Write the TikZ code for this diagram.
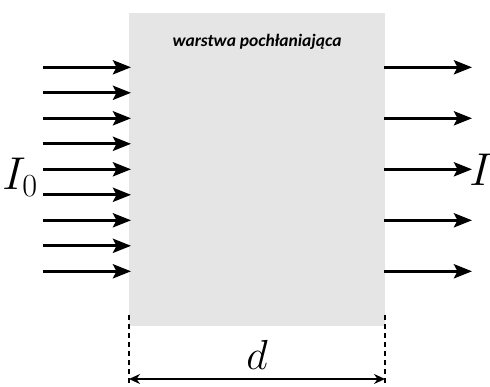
\documentclass[tikz,border=0pt]{standalone}
\usepackage{fix-cm}
\usepackage{fontspec}
\newfontfamily\labelfont{Carlito}
\usetikzlibrary{arrows.meta}
\begin{document}
\begin{tikzpicture}[x=1pt,y=-1pt,
  ray/.style={line width=3.4pt,-{Stealth[length=18pt,width=14pt,inset=3.5pt]}},
  dim/.style={line width=2pt,{Stealth[length=11pt,width=10pt]}-{Stealth[length=11pt,width=10pt]}},
  guide/.style={line width=1.8pt,dash pattern=on 5pt off 4pt},
  big/.style={font=\fontsize{46}{50}\selectfont}]
\useasboundingbox (0,0) rectangle (490,387);
% absorbing layer
\fill[black!10] (129,13) rectangle (385,326);
\node[font=\labelfont\bfseries\itshape\fontsize{17.5}{20}\selectfont] (title) at (257,42) {warstwa pochłaniająca};
% incoming rays
\foreach \y [count=\i] in {67.3,92.8,118.3,143.8,169.3,194.8,220.3,245.8,271.3} {
  \coordinate (inS\i) at (43,\y);
  \coordinate (inE\i) at (131,\y);
  \draw[ray] (inS\i) -- (inE\i);
}
% outgoing rays
\foreach \y [count=\i] in {67.3,118.3,169.3,220.3,271.3} {
  \coordinate (outS\i) at (384,\y);
  \coordinate (outE\i) at (472,\y);
  \draw[ray] (outS\i) -- (outE\i);
}
\node[big,inner sep=0] (I0) at (20,177) {$I_0$};
\node[big,inner sep=0] (I) at (481,170) {$I$};
% thickness
\coordinate (gL1) at (129,315);
\coordinate (gL2) at (129,387);
\coordinate (gR1) at (385,315);
\coordinate (gR2) at (385,387);
\draw[guide] (gL1) -- (gL2);
\draw[guide] (gR1) -- (gR2);
\coordinate (dL) at (129,379);
\coordinate (dR) at (385,379);
\draw[dim] (dL) -- (dR);
\node[font=\fontsize{42}{46}\selectfont,inner sep=0] (d) at (257,355) {$d$};
\end{tikzpicture}
\end{document}
